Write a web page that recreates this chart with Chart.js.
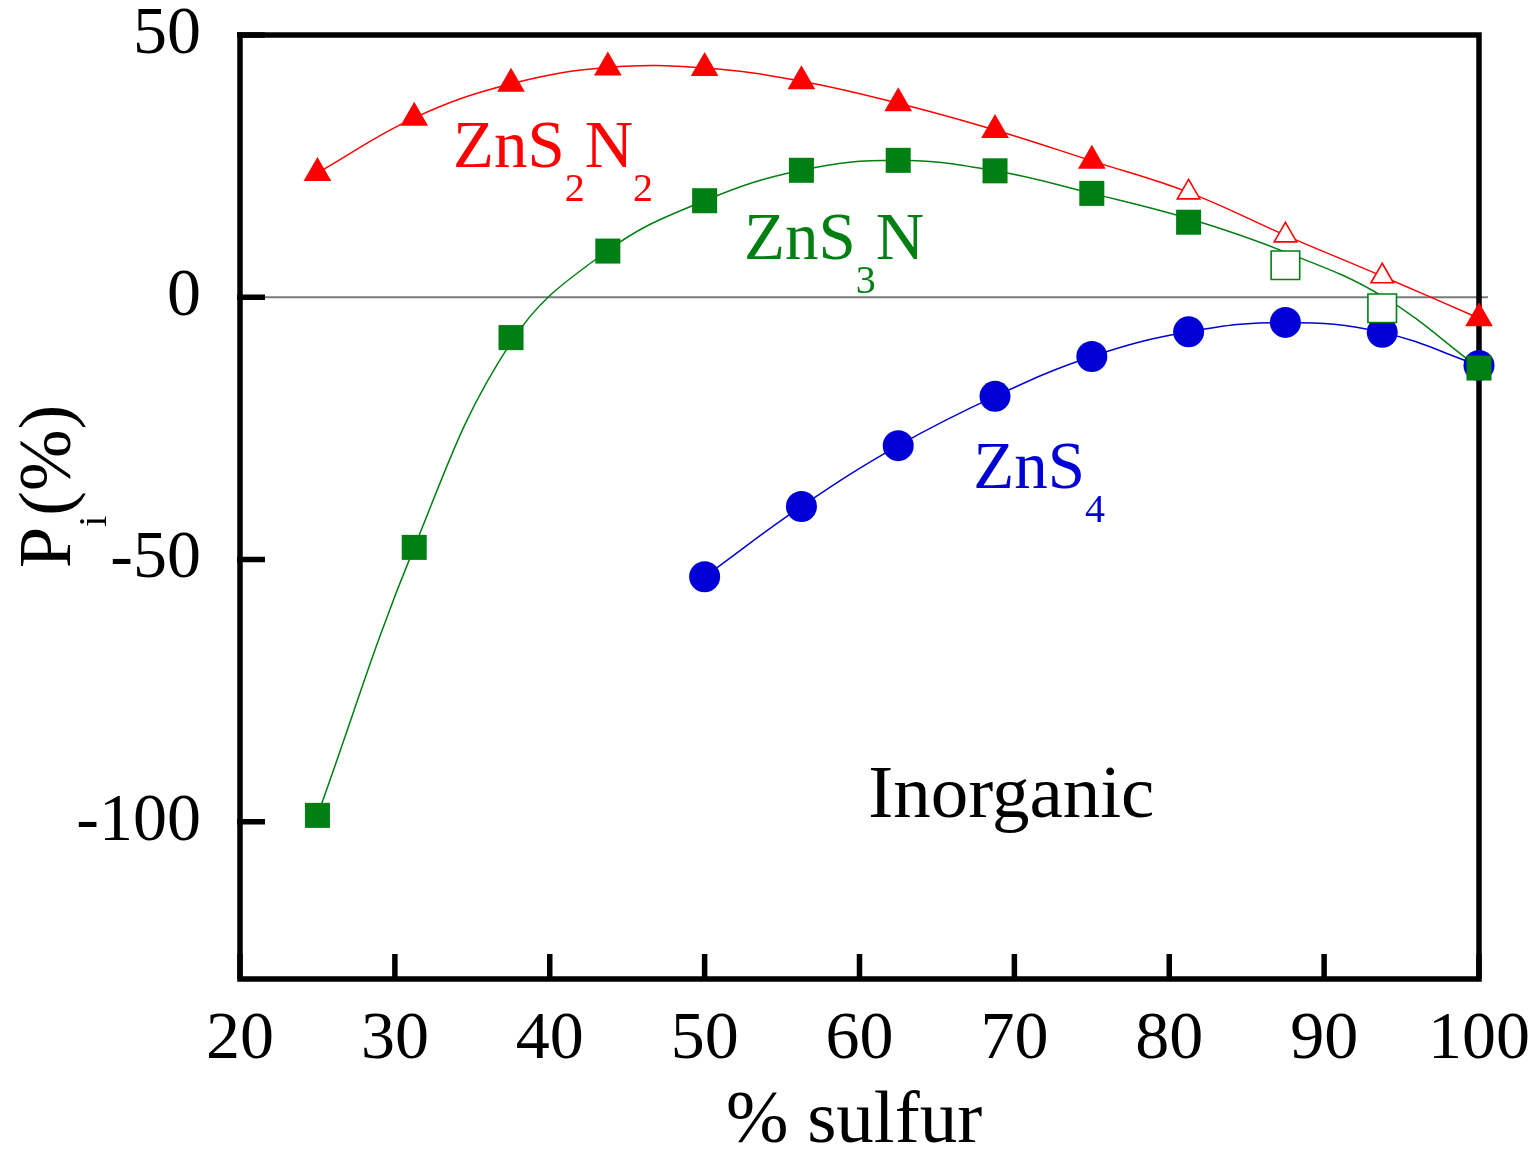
<!DOCTYPE html>
<html>
<head>
<meta charset="utf-8">
<script src="https://cdn.jsdelivr.net/npm/chart.js@4/dist/chart.umd.min.js"></script>
<style>
  html, body { margin: 0; padding: 0; background: #fff; }
  canvas { display: block; }
</style>
</head>
<body>
<canvas id="chart" width="1539" height="1149"></canvas>
<script>
// Sulfur fraction (%) for the mixed-ligand series
const sulfur = [25, 31.25, 37.5, 43.75, 50, 56.25, 62.5, 68.75, 75, 81.25, 87.5, 93.75, 100];
// Sulfur fraction (%) for ZnS4
const sulfurZnS4 = [50, 56.25, 62.5, 68.75, 75, 81.25, 87.5, 93.75, 100];

// P_i (%) values
const zns2n2 = [23.7, 34.2, 40.7, 43.8, 43.7, 41.2, 37.0, 31.9, 26.0, 20.0, 11.8, 4.0, -4.0];
const zns3n  = [-98.8, -47.7, -7.7, 8.8, 18.4, 24.2, 26.1, 24.1, 19.8, 14.3, 6.1, -2.1, -13.5];
const zns4   = [-53.3, -39.9, -28.3, -18.9, -11.3, -6.6, -4.8, -6.7, -13.0];

// Smoothed trend of ZnS3N (runs above the two open points near the end)
const zns3nTrend = [-98.8, -47.7, -8.6, 8.9, 18.4, 24.2, 26.1, 24.1, 19.8, 15.0, 8.6, 0.2, -13.5];

// 1 = open (hollow) marker
const zns2n2Open = [0, 0, 0, 0, 0, 0, 0, 0, 0, 1, 1, 1, 0];
const zns3nOpen  = [0, 0, 0, 0, 0, 0, 0, 0, 0, 0, 1, 1, 0];

// Axis ticks
const xTicks = [20, 30, 40, 50, 60, 70, 80, 90, 100];
const yTicks = [-100, -50, 0, 50];

const RED = '#ff0000';
const GREEN = '#007f12';
const BLUE = '#0000d6';
const SERIF = '"Liberation Serif", "Times New Roman", serif';

const pts = (xs, ys) => xs.map((x, i) => ({ x, y: ys[i] }));

function markerSet(label, xs, ys, open, color, style, rFilled, rOpen, order) {
  return {
    label,
    data: pts(xs, ys),
    showLine: false,
    pointStyle: style,
    pointRadius: c => (open && open[c.dataIndex]) ? rOpen : rFilled,
    pointBackgroundColor: c => (open && open[c.dataIndex]) ? '#ffffff' : color,
    pointBorderColor: color,
    pointBorderWidth: c => (open && open[c.dataIndex]) ? 1.6 : 0,
    clip: false,
    order
  };
}

function trendSet(xs, ys, color, order) {
  return {
    data: pts(xs, ys),
    showLine: true,
    pointRadius: 0,
    borderColor: color,
    borderWidth: 1.5,
    tension: 0.4,
    fill: false,
    clip: false,
    order
  };
}

// Text annotations drawn inside the plot (x, y in data units = left edge / baseline)
const notes = [
  { parts: [{ t: 'ZnS' }, { t: '2', sub: true }, { t: 'N' }, { t: '2', sub: true }], color: RED,   x: 33.75, y: 24.9 },
  { parts: [{ t: 'ZnS' }, { t: '3', sub: true }, { t: 'N' }],                        color: GREEN, x: 52.54, y: 7.2 },
  { parts: [{ t: 'ZnS' }, { t: '4', sub: true }],                                    color: BLUE,  x: 67.35, y: -36.4 },
  { parts: [{ t: 'Inorganic' }],                                                     color: '#000', x: 60.57, y: -99.1, size: 75 }
];

function drawRich(ctx, x, y, parts, color, size, subSize, drop) {
  ctx.fillStyle = color;
  ctx.textAlign = 'left';
  ctx.textBaseline = 'alphabetic';
  let cx = x;
  for (const p of parts) {
    ctx.font = (p.sub ? subSize : size) + 'px ' + SERIF;
    ctx.fillText(p.t, cx, y + (p.sub ? drop : 0));
    cx += ctx.measureText(p.t).width;
  }
}

// Box frame, inward tick marks and the zero reference line
const framePlugin = {
  id: 'frame',
  beforeDatasetsDraw(chart) {
    const { ctx, chartArea: a, scales: { x, y } } = chart;
    ctx.save();
    const y0 = y.getPixelForValue(0);
    ctx.strokeStyle = '#7a7a7a';
    ctx.lineWidth = 2;
    ctx.beginPath();
    ctx.moveTo(a.left, y0);
    ctx.lineTo(a.right + 9, y0);
    ctx.stroke();

    ctx.strokeStyle = '#000';
    ctx.lineWidth = 5.5;
    ctx.lineJoin = 'miter';
    ctx.strokeRect(a.left, a.top, a.right - a.left, a.bottom - a.top);
    ctx.beginPath();
    for (const t of x.ticks) {
      const px = x.getPixelForValue(t.value);
      ctx.moveTo(px, a.bottom);
      ctx.lineTo(px, a.bottom - 25);
    }
    for (const t of y.ticks) {
      const py = y.getPixelForValue(t.value);
      ctx.moveTo(a.left - 3, py);
      ctx.lineTo(a.left + 25, py);
    }
    ctx.stroke();
    ctx.restore();
  }
};

// Series labels, axis titles
const textPlugin = {
  id: 'texts',
  afterDatasetsDraw(chart) {
    const { ctx, scales: { x, y } } = chart;
    ctx.save();
    for (const n of notes) {
      drawRich(ctx, x.getPixelForValue(n.x), y.getPixelForValue(n.y), n.parts, n.color, n.size || 67, 40, 34);
    }
    // x-axis title
    ctx.fillStyle = '#000';
    ctx.font = '75px ' + SERIF;
    ctx.textAlign = 'center';
    ctx.textBaseline = 'alphabetic';
    ctx.fillText('% sulfur', 854, 1142);
    // y-axis title, rotated
    ctx.translate(70, 568);
    ctx.rotate(-Math.PI / 2);
    drawRich(ctx, 0, 0, [{ t: 'P' }, { t: 'i', sub: true }, { t: '(%)' }], '#000', 74, 40, 36);
    ctx.restore();
  }
};

new Chart(document.getElementById('chart'), {
  type: 'scatter',
  data: {
    datasets: [
      markerSet('ZnS3N', sulfur, zns3n, zns3nOpen, GREEN, 'rect', 17.7, 20.2, 1),
      markerSet('ZnS2N2', sulfur, zns2n2, zns2n2Open, RED, 'triangle', 16, 13, 2),
      markerSet('ZnS4', sulfurZnS4, zns4, null, BLUE, 'circle', 15.5, 15.5, 3),
      trendSet(sulfur, zns3nTrend, GREEN, 4),
      trendSet(sulfur, zns2n2, RED, 5),
      trendSet(sulfurZnS4, zns4, BLUE, 6)
    ]
  },
  options: {
    responsive: false,
    animation: false,
    devicePixelRatio: 1,
    layout: { padding: { top: 35, right: 60, left: 0, bottom: 0 } },
    plugins: { legend: { display: false }, tooltip: { enabled: false } },
    scales: {
      x: {
        type: 'linear',
        min: 20,
        max: 100,
        afterBuildTicks: s => { s.ticks = xTicks.map(v => ({ value: v })); },
        afterFit: s => { s.height = 170; s.paddingLeft = 0; s.paddingRight = 0; },
        grid: { display: false, drawTicks: false },
        border: { display: false },
        ticks: {
          color: '#000',
          font: { family: SERIF, size: 68 },
          padding: 20,
          maxRotation: 0,
          autoSkip: false,
          callback: v => String(v)
        }
      },
      y: {
        type: 'linear',
        min: -130,
        max: 50,
        afterBuildTicks: s => { s.ticks = yTicks.map(v => ({ value: v })); },
        afterFit: s => { s.width = 240; s.paddingTop = 0; s.paddingBottom = 0; },
        grid: { display: false, drawTicks: false },
        border: { display: false },
        ticks: {
          color: '#000',
          font: { family: SERIF, size: 68 },
          padding: 39,
          autoSkip: false,
          callback: v => String(v)
        }
      }
    }
  },
  plugins: [framePlugin, textPlugin]
});
</script>
</body>
</html>
